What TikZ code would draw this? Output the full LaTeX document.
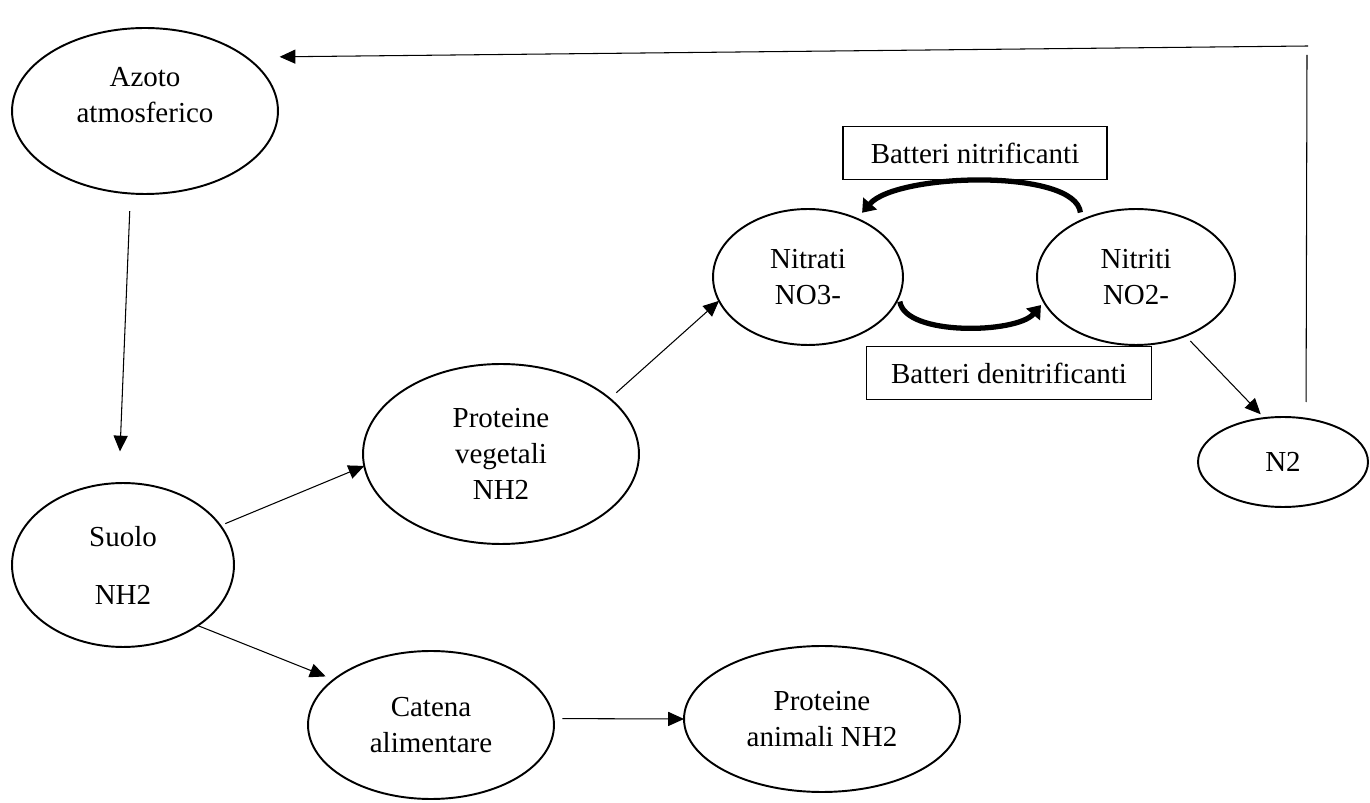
\documentclass[tikz,border=0pt]{standalone}
\usepackage{fontspec}
\setmainfont{Liberation Serif}
\usetikzlibrary{arrows.meta,shapes.geometric}
\newcommand{\diagfont}{\fontsize{16.5}{20.5}\selectfont}

\begin{document}
\begin{tikzpicture}[x=0.02cm, y=-0.02cm,
    blob/.style={draw, ellipse, line width=1.1pt, align=center, font=\diagfont},
    tag/.style={draw, rectangle, line width=0.8pt, font=\diagfont, minimum height=1.07cm},
    arr/.style={line width=0.6pt, -{Triangle[length=9pt,width=8pt]}},
    curvearr/.style={line width=3pt, -{Triangle[length=7pt,width=10pt]}}]
        \tikzstyle{every node}+=[inner sep=0pt, outer sep=0pt]
        \useasboundingbox (0,0) rectangle (1370,803);
        \node [blob, minimum width=5.32cm, minimum height=3.32cm,
          label={[font=\diagfont, align=center, yshift=0.32cm]center:Azoto\\atmosferico}] (azoto) at (145,111) {};
        \node [blob, minimum width=4.44cm, minimum height=3.28cm] (suolo) at (123,565) {Suolo\\[12.5pt]NH2};
        \node [blob, minimum width=5.52cm, minimum height=3.6cm] (pveg) at (501,454) {Proteine\\vegetali\\NH2};
        \node [blob, minimum width=4.92cm, minimum height=2.96cm] (catena) at (431,725) {Catena\\alimentare};
        \node [blob, minimum width=5.52cm, minimum height=2.92cm] (panimali) at (822,719) {Proteine\\animali NH2};
        \node [blob, minimum width=3.8cm, minimum height=2.72cm] (nitrati) at (808,277) {Nitrati\\NO3-};
        \node [blob, minimum width=3.96cm, minimum height=2.72cm] (nitriti) at (1136,277) {Nitriti\\NO2-};
        \node [blob, minimum width=3.4cm, minimum height=1.8cm] (n2) at (1283,462) {N2};
        \node [tag, minimum width=5.28cm] (nitrif) at (975,153) {Batteri nitrificanti};
        \node [tag, minimum width=5.7cm] (denitrif) at (1009,373) {Batteri denitrificanti};
        \coordinate (rise) at (1307,55);
        \coordinate (corner) at (1308,46);
        \draw [arr, shorten <=10pt, shorten >=18pt] (azoto.260) -- (suolo.93);
        \draw [arr, shorten <=3pt] (suolo.22) -- (pveg.185);
        \draw [arr, shorten >=5pt] (suolo.-39) -- (catena.155);
        \draw [arr, shorten <=5pt] (catena.3) -- (panimali.180);
        \draw [arr, shorten <=5pt] (pveg.27) -- (nitrati.195);
        \draw [arr, shorten <=4pt, shorten >=3pt] (nitriti.-50) -- (n2.113);
        \draw [curvearr, shorten <=4.5pt, shorten >=4.5pt] (nitriti.134) .. controls +(-6,-52) and +(40,-46) .. (nitrati.50);
        \draw [curvearr, shorten <=3pt, shorten >=2.5pt] (nitrati.-12) .. controls +(6,40) and +(-27,32) .. (nitriti.195);
        \draw [line width=0.6pt, shorten <=9.5pt] (n2.62) -- (rise);
        \draw [arr, shorten >=19pt] (corner) -- (azoto.28);
\end{tikzpicture}
\end{document}
